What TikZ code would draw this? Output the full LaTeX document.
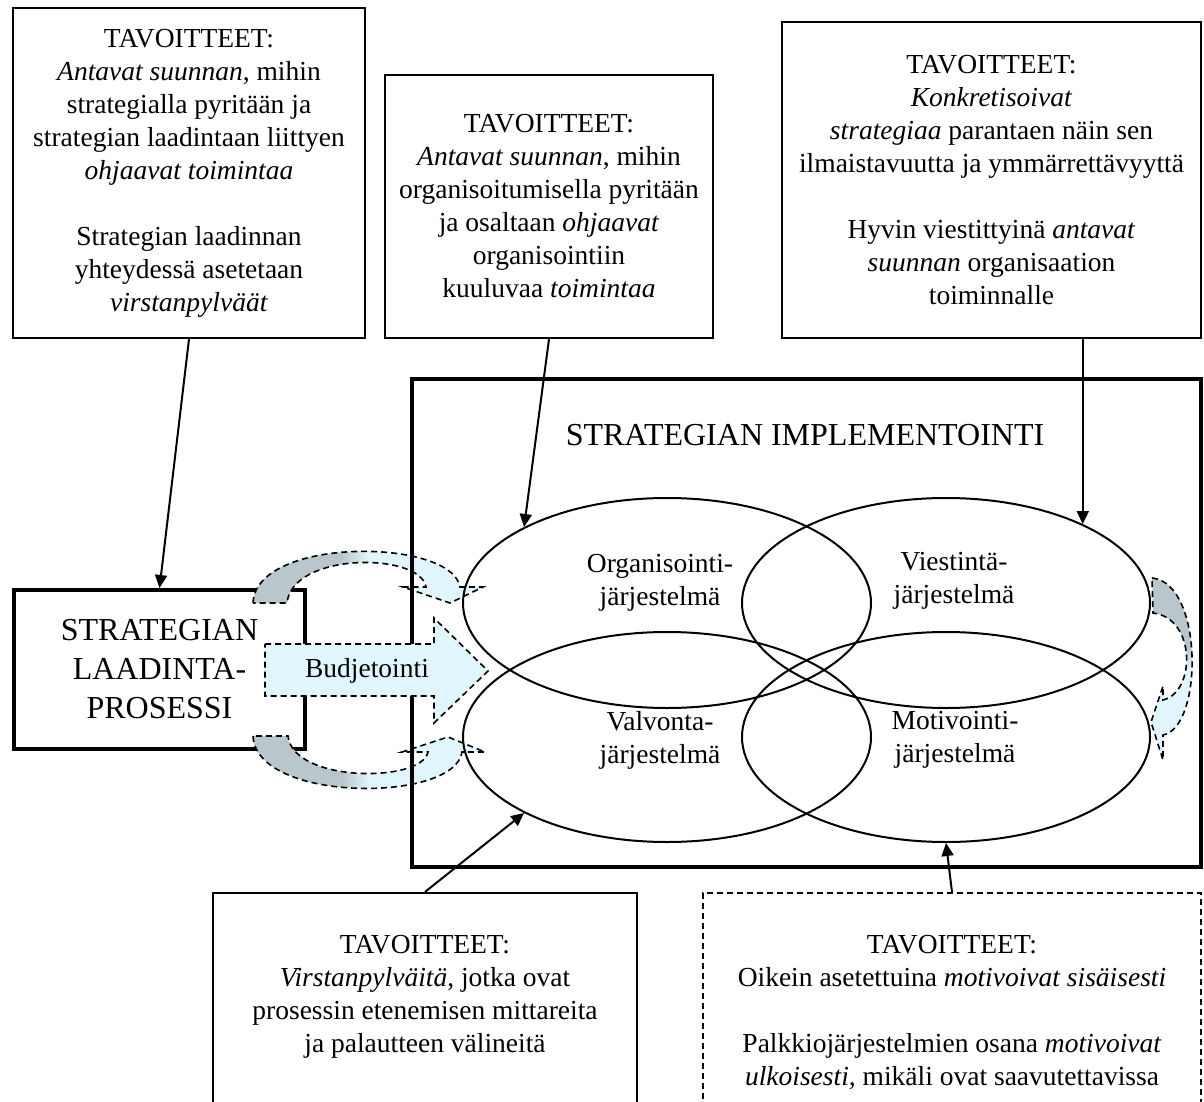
\documentclass[tikz,border=0pt]{standalone}
\usepackage{fontspec}
\setmainfont{Liberation Serif}
\usetikzlibrary{positioning, arrows.meta, calc, shapes.geometric}

\definecolor{arrblue}{RGB}{225,245,253}
\definecolor{arrgray}{RGB}{185,198,203}
\pgfdeclarehorizontalshading{grayblue}{100bp}{color(0bp)=(arrgray); color(44bp)=(arrgray); color(50bp)=(arrblue); color(100bp)=(arrblue)}
\newcommand{\bodyfont}{\fontsize{27.5}{33}\selectfont}
\newcommand{\bigfont}{\fontsize{32}{39}\selectfont}

\begin{document}
\begin{tikzpicture}[
    x=1pt, y=-1pt,
    tbox/.style={draw, line width=2.2pt, align=center, inner sep=0pt, font=\bodyfont},
    kbox/.style={draw, line width=4pt, align=center, inner sep=0pt, font=\bigfont},
    sys/.style={draw, ellipse, line width=2pt, minimum width=408pt, minimum height=210pt},
    txt/.style={align=center, inner sep=0pt, font=\bodyfont},
    link/.style={line width=2pt, -{Triangle[length=13pt, width=12pt]}},
    curved/.style={draw, dash pattern=on 6pt off 4pt, line width=1.6pt, shading=grayblue},
]
\useasboundingbox[fill=white] (0,0) rectangle (1204,1102);

% goal boxes, top row
\node[tbox, minimum width=352pt, minimum height=330pt] (box1) at (189,173) {TAVOITTEET:\\ \textit{Antavat suunnan}, mihin\\ strategialla pyritään ja\\ strategian laadintaan liittyen\\ \textit{ohjaavat toimintaa}\\[33pt] Strategian laadinnan\\ yhteydessä asetetaan\\ \textit{virstanpylväät}};
\node[tbox, minimum width=328pt, minimum height=263pt] (box2) at (549,206.5) {TAVOITTEET:\\ \textit{Antavat suunnan}, mihin\\ organisoitumisella pyritään\\ ja osaltaan \textit{ohjaavat}\\ organisointiin\\ kuuluvaa \textit{toimintaa}};
\node[tbox, minimum width=419pt, minimum height=316pt] (box3) at (991.5,180) {TAVOITTEET:\\ \textit{Konkretisoivat}\\ \textit{strategiaa} parantaen näin sen\\ ilmaistavuutta ja ymmärrettävyyttä\\[33pt] Hyvin viestittyinä \textit{antavat}\\ \textit{suunnan} organisaation\\ toiminnalle};

\node[kbox, minimum width=291pt, minimum height=159pt] (sl) at (159.5,669.5) {STRATEGIAN\\ LAADINTA-\\ PROSESSI};

% curved arrows
\path[curved] (253,603) .. controls (256,536) and (452,538) .. (460,587) -- (483,587) -- (450,603) -- (403,587) -- (426,587) .. controls (420,552) and (292,552) .. (287,603) -- cycle;
\path[curved] (253,736) .. controls (256,803) and (455,803) .. (462,752) -- (485,752) -- (448,737) -- (402,752) -- (428,752) .. controls (422,783) and (293,783) .. (288,736) -- cycle;
\path[curved, shading angle=-90] (1152,578) .. controls (1204,583) and (1203,728) .. (1163,735) -- (1163,760) -- (1151,722) -- (1163,686) -- (1163,700) .. controls (1196,692) and (1196,618) .. (1153,613) -- cycle;

\node[kbox, minimum width=789pt, minimum height=488pt] (impl) at (806.5,623) {};
\node[txt, font=\bigfont] (impltitle) at (805,435) {STRATEGIAN IMPLEMENTOINTI};

\node[sys] (org) at (667,603) {};
\node[sys] (vie) at (946,603) {};
\node[sys] (val) at (667,737) {};
\node[sys] (mot) at (946,737) {};

% budjetointi
\path[draw, fill=arrblue, dash pattern=on 6pt off 4pt, line width=1.6pt] (265,644) -- (434,644) -- (434,618) -- (488,671) -- (434,723) -- (434,696) -- (265,696) -- cycle;
\node[txt] (budj) at (367,671) {Budjetointi};

\node[txt] (orgtxt) at (660,583) {Organisointi-\\järjestelmä};
\node[txt] (vietxt) at (954,581) {Viestintä-\\järjestelmä};
\node[txt] (valtxt) at (660,740) {Valvonta-\\järjestelmä};
\node[txt] (mottxt) at (955,740) {Motivointi-\\järjestelmä};

% goal boxes, bottom row
\node[tbox, minimum width=424pt, minimum height=214pt] (box4) at (425,1000) {};
\node[tbox, dash pattern=on 6pt off 4pt, line width=1.8pt, minimum width=498pt, minimum height=214pt] (box5) at (952,1000) {};
\node[txt, below=43pt of box4.north] (box4txt) {TAVOITTEET:\\ \textit{Virstanpylväitä}, jotka ovat\\ prosessin etenemisen mittareita\\ ja palautteen välineitä};
\node[txt, below=43pt of box5.north] (box5txt) {TAVOITTEET:\\ Oikein asetettuina \textit{motivoivat sisäisesti}\\[33pt] Palkkiojärjestelmien osana \textit{motivoivat}\\ \textit{ulkoisesti}, mikäli ovat saavutettavissa};

\draw[link] (box1.south) -- (sl.north);
\draw[link] (box2.south) -- (org.152);
\draw[link] (box3.south -| vie.30) -- (vie.30);
\draw[link] (box4.north) -- (val.208);
\draw[link] (box5.north) -- (mot.south);
\end{tikzpicture}
\end{document}
